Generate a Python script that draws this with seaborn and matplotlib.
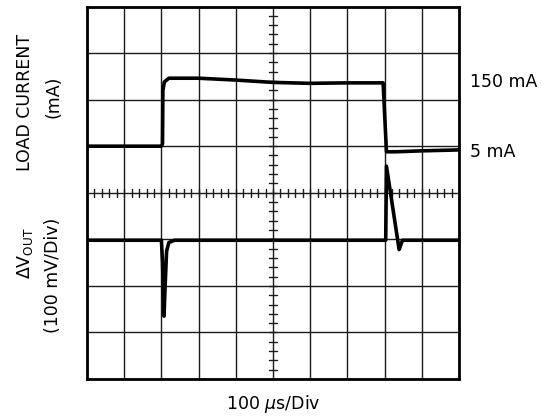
import numpy as np
import pandas as pd
import matplotlib
matplotlib.use("Agg")
import matplotlib.pyplot as plt
import seaborn as sns

# scope screen: 10 x 8 divisions, time in us (100 us/div), traces in divisions
load_time = [0, 200, 203, 204, 208, 220, 300, 400, 500, 600, 700, 796, 805, 830, 900, 1000]
load_div = [5.0, 5.0, 5.05, 6.2, 6.38, 6.46, 6.46, 6.42, 6.37, 6.35, 6.36, 6.36, 4.88, 4.88, 4.90, 4.92]

vout_time = [0, 200, 203, 207, 210, 214, 220, 235, 803, 805, 839, 848, 1000]
vout_div = [2.98, 2.98, 2.5, 1.35, 2.0, 2.75, 2.93, 2.98, 2.98, 4.57, 2.78, 2.98, 2.98]

level_labels = ["150 mA", "5 mA"]
level_pos = [6.37, 4.87]

sns.set_style("white")
plt.rcParams['font.family'] = ['DejaVu Sans']
plt.rcParams['mathtext.fontset'] = 'dejavusans'
plt.rcParams['text.color'] = 'black'

fig = plt.figure(figsize=(5.42, 4.2), dpi=100)
ax = fig.add_axes([87 / 542, 1 - 379 / 420, 372 / 542, 372.5 / 420])

ax.set_xlim(0, 1000)
ax.set_ylim(0, 8)
ax.set_xticks(np.arange(0, 1001, 100))
ax.set_yticks(np.arange(0, 9, 1))
ax.set_xticklabels([])
ax.set_yticklabels([])
ax.tick_params(length=0)
ax.grid(True, color='#1a1a1a', lw=1.0)
ax.set_axisbelow(True)
for s in ax.spines.values():
    s.set_visible(True)
    s.set_color('black')
    s.set_linewidth(2.0)

# fine graticule ticks on the centre lines
for yy in np.arange(0.2, 8, 0.2):
    ax.plot([500 - 10, 500 + 10], [yy, yy], color='#1a1a1a', lw=1.0, zorder=1)
for xx in np.arange(20, 1000, 20):
    ax.plot([xx, xx], [4 - 0.09, 4 + 0.09], color='#1a1a1a', lw=1.0, zorder=1)

load_df = pd.DataFrame({"t": load_time, "y": load_div})
vout_df = pd.DataFrame({"t": vout_time, "y": vout_div})
sns.lineplot(data=load_df, x="t", y="y", ax=ax, color='black', lw=2.6,
             sort=False, estimator=None, zorder=3)
sns.lineplot(data=vout_df, x="t", y="y", ax=ax, color='black', lw=2.6,
             sort=False, estimator=None, zorder=3)
ax.set_xlabel("")
ax.set_ylabel("")

for lab, pos in zip(level_labels, level_pos):
    ax.text(1029, pos, lab, ha='left', va='center', fontsize=12.5, clip_on=False)

fs = 12.5
fig.text(25 / 542, 1 - 102 / 420, "LOAD CURRENT", rotation=90, ha='center', va='center', fontsize=fs)
fig.text(53 / 542, 1 - 97 / 420, "(mA)", rotation=90, ha='center', va='center', fontsize=fs)
fig.text(25 / 542, 1 - 253 / 420, r"$\Delta$V$_{\mathrm{OUT}}$", rotation=90, ha='center', va='center', fontsize=fs)
fig.text(53 / 542, 1 - 275 / 420, "(100 mV/Div)", rotation=90, ha='center', va='center', fontsize=fs)
fig.text(273 / 542, 1 - 404 / 420, r"100 $\mu$s/Div", ha='center', va='center', fontsize=fs)

fig.savefig("out.png", dpi=100)
